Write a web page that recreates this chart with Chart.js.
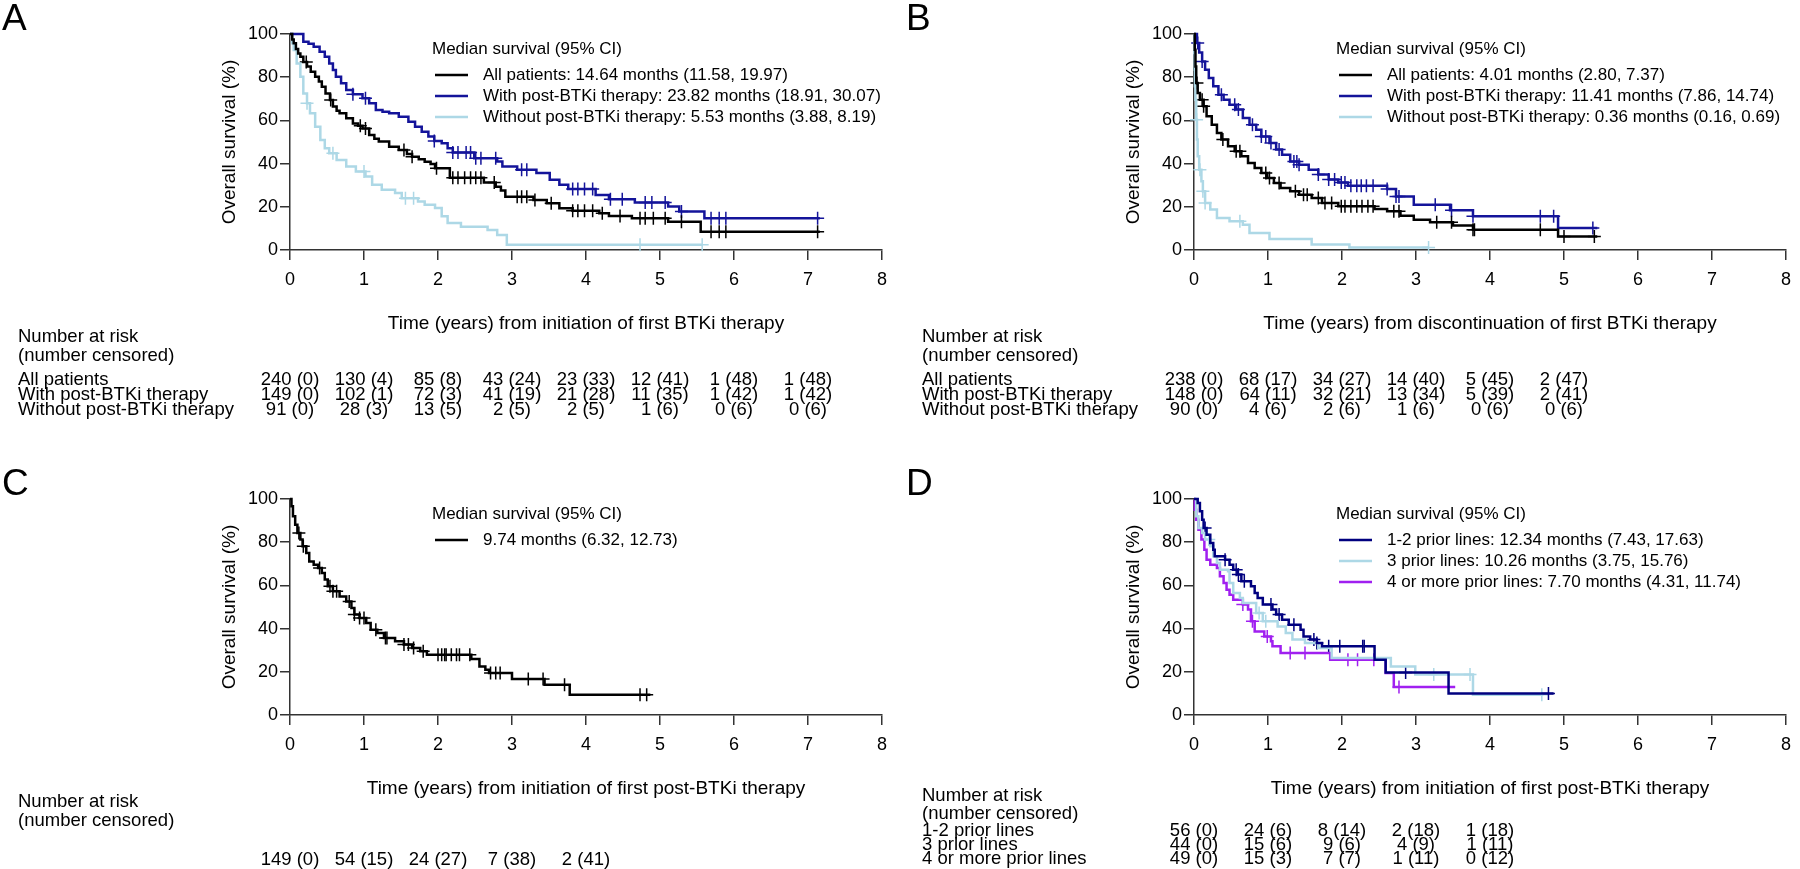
<!DOCTYPE html>
<html>
<head>
<meta charset="utf-8">
<script src="https://cdn.jsdelivr.net/npm/chart.js@4.4.1/dist/chart.umd.min.js"></script>
<style>
  body { margin: 0; width: 1800px; height: 869px; overflow: hidden; background: #fff; position: relative; }
  .panel { position: absolute; }
</style>
</head>
<body>
<div class="panel" style="left:0;top:0"><canvas id="chartA" width="896" height="465"></canvas></div>
<div class="panel" style="left:904px;top:0"><canvas id="chartB" width="896" height="465"></canvas></div>
<div class="panel" style="left:0;top:465px"><canvas id="chartC" width="896" height="404"></canvas></div>
<div class="panel" style="left:904px;top:465px"><canvas id="chartD" width="896" height="404"></canvas></div>
<script>
// ---- panel A : from initiation of first BTKi ----
var aAllT = [0, 0.03, 0.05, 0.08, 0.11, 0.14, 0.18, 0.23, 0.28, 0.34, 0.39, 0.43, 0.48, 0.54, 0.58, 0.63, 0.67, 0.76, 0.85, 0.92, 0.98, 1.07, 1.14, 1.2, 1.34, 1.47, 1.58, 1.65, 1.74, 1.82, 1.9, 1.96, 2.16, 2.62, 2.78, 2.85, 2.91, 3.29, 3.47, 3.64, 3.82, 4.18, 4.31, 4.62, 5.11, 5.55, 7.16];
var aAllS = [100, 97.5, 95.7, 93, 91, 89.5, 87, 84.9, 82.5, 80.2, 78, 75.6, 72.5, 69.4, 66.4, 64.5, 63.3, 61, 58.6, 57.5, 56.3, 53.2, 51.5, 50.2, 47.8, 46.3, 44.5, 43.2, 42, 40.9, 39.8, 37.8, 33.4, 31.2, 29.3, 27.5, 24.7, 23.1, 21.6, 19.3, 18.2, 17, 15.7, 14.7, 13.1, 8.5, 8.5];
var aAllCens = [0.22, 0.55, 0.95, 1.02, 1.54, 1.65, 1.98, 2.2, 2.27, 2.36, 2.44, 2.51, 2.58, 2.76, 3.07, 3.13, 3.2, 3.31, 3.53, 3.82, 3.89, 3.98, 4.09, 4.22, 4.46, 4.73, 4.8, 4.91, 5.07, 5.29, 5.69, 5.8, 5.89, 7.13];

var aWithT = [0, 0.16, 0.18, 0.25, 0.32, 0.4, 0.47, 0.53, 0.58, 0.62, 0.69, 0.76, 0.85, 0.98, 1.07, 1.16, 1.25, 1.34, 1.47, 1.6, 1.69, 1.78, 1.87, 1.95, 2.05, 2.13, 2.2, 2.49, 2.8, 2.87, 3.07, 3.33, 3.51, 3.64, 3.76, 4.13, 4.31, 4.66, 5.11, 5.26, 5.6, 7.16];
var aWithS = [100, 100, 96.4, 95.5, 94.1, 91.8, 89.5, 86.4, 83.3, 80.2, 77.2, 74.1, 72.1, 70.2, 67.9, 64.8, 64, 63.3, 61.7, 59.4, 57.1, 54.8, 52.5, 50.5, 49.4, 47.1, 45.1, 42.5, 41, 38.6, 37.1, 35.6, 32.5, 30.2, 28.2, 25.5, 23.5, 22, 20.1, 17.8, 14.7, 14.7];
var aWithCens = [0.85, 1.02, 1.95, 2.2, 2.27, 2.38, 2.44, 2.51, 2.58, 2.78, 3.13, 3.2, 3.82, 3.89, 3.98, 4.09, 4.33, 4.49, 4.8, 4.89, 5.07, 5.29, 5.69, 5.8, 5.89, 7.13];

var aWoT = [0, 0.03, 0.05, 0.09, 0.14, 0.18, 0.23, 0.27, 0.34, 0.41, 0.47, 0.53, 0.63, 0.76, 0.89, 1.02, 1.11, 1.24, 1.42, 1.51, 1.73, 1.82, 1.96, 2.05, 2.13, 2.31, 2.67, 2.8, 2.93, 5.57];
var aWoS = [100, 95.7, 92.6, 86.4, 80.2, 72.5, 67.9, 63.3, 57.1, 50.9, 47.1, 44.8, 41.7, 38.6, 36.3, 34, 30.2, 27.9, 26.4, 24, 22.5, 20.9, 19.4, 15.6, 12.5, 10.8, 9.3, 7, 2.4, 2.4];
var aWoCens = [0.23, 0.58, 1.0, 1.56, 1.67, 4.73, 5.57];

var aRiskAll = [240, 130, 85, 43, 23, 12, 1, 1], aCensAll = [0, 4, 8, 24, 33, 41, 48, 48];
var aRiskWith = [149, 102, 72, 41, 21, 11, 1, 1], aCensWith = [0, 1, 3, 19, 28, 35, 42, 42];
var aRiskWo = [91, 28, 13, 2, 2, 1, 0, 0], aCensWo = [0, 3, 5, 5, 5, 6, 6, 6];

// ---- panel B : from discontinuation of first BTKi ----
var bAllT = [0, 0.01, 0.02, 0.03, 0.05, 0.08, 0.13, 0.17, 0.24, 0.31, 0.37, 0.46, 0.55, 0.64, 0.73, 0.82, 0.91, 0.99, 1.08, 1.17, 1.3, 1.42, 1.59, 1.73, 1.95, 2.44, 2.61, 2.79, 2.97, 3.19, 3.5, 3.77, 4.92, 5.45];
var bAllS = [100, 92.7, 85, 77.3, 72.7, 69.6, 66.5, 61.9, 58, 54.2, 51.1, 48, 45.7, 43.4, 40.3, 38, 35.6, 33.3, 31, 28.7, 27.2, 25.6, 24.1, 21.8, 20.3, 19, 17.9, 15.9, 14, 12.8, 11.3, 9.4, 6.3, 6.3];
var bAllCens = [0.04, 0.11, 0.13, 0.39, 0.57, 0.62, 0.97, 1.02, 1.15, 1.37, 1.48, 1.53, 1.68, 1.77, 1.86, 1.99, 2.04, 2.12, 2.2, 2.27, 2.35, 2.42, 2.7, 2.77, 3.28, 3.48, 3.77, 3.79, 4.68, 5.0, 5.41];

var bWithT = [0, 0.04, 0.07, 0.11, 0.15, 0.2, 0.26, 0.33, 0.4, 0.48, 0.57, 0.66, 0.75, 0.84, 0.91, 1.02, 1.11, 1.19, 1.3, 1.42, 1.55, 1.68, 1.82, 1.95, 2.08, 2.61, 2.73, 2.97, 3.46, 3.77, 4.92, 5.45];
var bWithS = [100, 95.8, 91.4, 87.3, 83.5, 79.6, 75.8, 71.9, 69.6, 67.3, 65, 61.1, 58, 55.7, 52.6, 49.5, 46.5, 44.1, 41, 39.5, 37.2, 34.9, 32.6, 31.2, 29.8, 28.2, 24.8, 21, 18.4, 15.6, 10.2, 10.2];
var bWithCens = [0.05, 0.11, 0.37, 0.55, 0.6, 0.79, 0.91, 0.97, 1.04, 1.15, 1.35, 1.39, 1.42, 1.68, 1.82, 1.9, 1.99, 2.04, 2.12, 2.2, 2.26, 2.33, 2.42, 2.61, 2.73, 2.77, 3.26, 3.48, 3.77, 4.68, 4.86, 5.39];

var bWoT = [0, 0.005, 0.01, 0.013, 0.02, 0.03, 0.04, 0.05, 0.07, 0.1, 0.12, 0.15, 0.22, 0.31, 0.48, 0.66, 0.75, 1.02, 1.59, 2.1, 3.17];
var bWoS = [100, 91.2, 83.5, 75.8, 69.6, 60.3, 51.1, 43.4, 37.2, 31.8, 27.2, 21.8, 18.7, 14.8, 13.3, 11.7, 7.9, 5.1, 2.5, 1.1, 1.1];
var bWoCens = [0.035, 0.08, 0.12, 0.15, 0.62, 3.17];

var bRiskAll = [238, 68, 34, 14, 5, 2], bCensAll = [0, 17, 27, 40, 45, 47];
var bRiskWith = [148, 64, 32, 13, 5, 2], bCensWith = [0, 11, 21, 34, 39, 41];
var bRiskWo = [90, 4, 2, 1, 0, 0], bCensWo = [0, 6, 6, 6, 6, 6];

// ---- panel C : from initiation of first post-BTKi ----
var cT = [0, 0.02, 0.04, 0.07, 0.1, 0.14, 0.17, 0.22, 0.26, 0.32, 0.38, 0.43, 0.47, 0.51, 0.58, 0.67, 0.76, 0.83, 0.87, 0.94, 1.03, 1.09, 1.18, 1.27, 1.42, 1.54, 1.65, 1.76, 1.85, 2.45, 2.56, 2.64, 2.69, 3.0, 3.44, 3.78, 4.87];
var cS = [100, 96.6, 92, 88.1, 84.3, 81.2, 78.1, 75, 71.1, 69.6, 68.1, 65.7, 62.7, 59.6, 57.3, 54.9, 52.6, 49.5, 46.5, 44.9, 42.6, 39.5, 38, 35.6, 34.1, 32.6, 31, 29.5, 27.9, 25.9, 22.5, 21, 19.4, 16.7, 14, 9.4, 9.4];
var cCens = [0.12, 0.18, 0.4, 0.54, 0.58, 0.63, 0.8, 0.87, 0.94, 1.0, 1.16, 1.29, 1.31, 1.54, 1.6, 1.67, 1.8, 2.0, 2.05, 2.09, 2.11, 2.18, 2.25, 2.29, 2.43, 2.71, 2.78, 2.84, 3.22, 3.42, 3.71, 4.73, 4.82];
var cRisk = [149, 54, 24, 7, 2], cCensN = [0, 15, 27, 38, 41];

// ---- panel D : by number of prior lines ----
var dL12T = [0, 0.05, 0.08, 0.11, 0.13, 0.17, 0.22, 0.26, 0.28, 0.42, 0.48, 0.53, 0.59, 0.64, 0.77, 0.82, 0.86, 0.93, 1.06, 1.11, 1.19, 1.28, 1.44, 1.48, 1.57, 1.66, 1.73, 2.44, 2.59, 3.44, 4.86];
var dL12S = [100, 98.1, 94.3, 90.4, 86.6, 83.5, 79.6, 76.5, 73.5, 71.9, 69.6, 67.3, 65, 61.9, 59.6, 56.5, 54.2, 51.1, 48.8, 46.5, 44.1, 41.8, 39.5, 36.4, 34.9, 33.3, 31.8, 25.6, 19.7, 9.9, 9.9];
var dL12Cens = [0.15, 0.42, 0.57, 0.6, 0.68, 1.04, 1.15, 1.35, 1.62, 1.66, 1.82, 1.97, 2.28, 2.3, 2.86, 4.79];

var dL3T = [0, 0.03, 0.06, 0.11, 0.15, 0.22, 0.26, 0.31, 0.35, 0.46, 0.48, 0.53, 0.62, 0.66, 0.84, 0.93, 1.13, 1.24, 1.33, 1.5, 1.68, 1.86, 2.66, 2.99, 3.77, 4.72];
var dL3S = [100, 92, 86.6, 84.3, 81.2, 78.1, 73.5, 70.4, 67.3, 66.5, 61.1, 56.5, 54.2, 51.9, 47.2, 43.4, 41, 38, 34.9, 33.3, 31, 26.4, 22.5, 18.7, 9.4, 9.4];
var dL3Cens = [0.2, 0.88, 0.97, 3.24, 3.73, 4.7];

var dL4T = [0, 0.01, 0.03, 0.06, 0.1, 0.14, 0.17, 0.22, 0.31, 0.35, 0.4, 0.44, 0.48, 0.53, 0.66, 0.73, 0.77, 0.82, 0.95, 1.04, 1.06, 1.17, 1.84, 2.59, 2.7, 3.53];
var dL4S = [100, 95, 90.4, 85.8, 81.2, 76.5, 71.9, 69.6, 68.1, 64.2, 61.1, 58, 55.7, 53.4, 51.1, 48.8, 43.4, 38.7, 36.4, 34.1, 31.8, 28.7, 25.6, 19.4, 13, 13];
var dL4Cens = [0.66, 0.79, 0.99, 1.3, 1.5, 2.08, 2.21, 2.43, 2.77];

var dRisk12 = [56, 24, 8, 2, 1], dCens12 = [0, 6, 14, 18, 18];
var dRisk3 = [44, 15, 9, 4, 1], dCens3 = [0, 6, 6, 9, 11];
var dRisk4 = [49, 15, 7, 1, 0], dCens4 = [0, 3, 7, 11, 12];

var FONT = '"Liberation Sans", Arial, Helvetica, sans-serif';
Chart.defaults.font.family = FONT;
Chart.defaults.color = '#000';

// survival level at time t (censor marks sit on the curve)
var stepAt = function (T, S, t) {
  var v = S[0];
  for (var i = 0; i < T.length; i++) {
    if (T[i] <= t) v = S[i];
  }
  return v;
};

var kmDecor = {
  id: 'kmDecor',
  afterDraw: function (chart, args, o) {
    var ctx = chart.ctx, xs = chart.scales.x;
    ctx.save();
    ctx.fillStyle = '#000';

    ctx.font = '37px ' + FONT;
    ctx.textBaseline = 'alphabetic';
    ctx.textAlign = 'left';
    ctx.fillText(o.letter, 2, 30);

    // legend
    ctx.font = '17px ' + FONT;
    ctx.textBaseline = 'middle';
    ctx.fillText('Median survival (95% CI)', 432, 49);
    var row = 0;
    chart.data.datasets.forEach(function (ds) {
      if (!ds.showLine) return;
      var y = 75 + row * 21;
      ctx.strokeStyle = ds.borderColor;
      ctx.lineWidth = 2.5;
      ctx.beginPath();
      ctx.moveTo(435, y);
      ctx.lineTo(468, y);
      ctx.stroke();
      ctx.fillText(ds.label, 483, y);
      row++;
    });

    // number at risk table
    ctx.font = '18.5px ' + FONT;
    ctx.fillText('Number at risk', 18, o.headY);
    ctx.fillText('(number censored)', 18, o.censY);
    o.rows.forEach(function (r, i) {
      var y = o.rowY[i];
      ctx.textAlign = 'left';
      if (r.name) ctx.fillText(r.name, 18, y);
      ctx.textAlign = 'center';
      r.n.forEach(function (n, j) {
        ctx.fillText(n + ' (' + r.c[j] + ')', xs.getPixelForValue(j), y);
      });
    });
    ctx.restore();
  }
};

var axisGrid = { drawOnChartArea: false, drawTicks: true, tickLength: 10, color: '#333', lineWidth: 1.5 };
var axisBorder = { display: true, color: '#333', width: 1.5 };

var makePanel = function (id, p) {
  var datasets = [];
  p.curves.forEach(function (c) {
    datasets.push({
      label: c.label,
      data: c.T.map(function (t, i) { return { x: t, y: c.S[i] }; }),
      borderColor: c.color, backgroundColor: c.color, borderWidth: 2.5,
      stepped: 'before', pointRadius: 0, clip: false, showLine: true
    });
  });
  p.curves.forEach(function (c) {
    datasets.push({
      label: c.label + ' censored',
      data: c.cens.map(function (t) { return { x: t, y: stepAt(c.T, c.S, t) }; }),
      showLine: false, pointStyle: 'cross', pointRadius: 6.5,
      borderColor: c.color, backgroundColor: c.color, borderWidth: 1.5, clip: false
    });
  });

  var h = document.getElementById(id).height;
  new Chart(document.getElementById(id), {
    type: 'line',
    data: { datasets: datasets },
    options: {
      responsive: false,
      animation: false,
      events: [],
      layout: { padding: { left: 200, right: 6, top: 34, bottom: h - 250 - 85 } },
      plugins: {
        legend: { display: false },
        tooltip: { enabled: false },
        kmDecor: { letter: p.letter, headY: p.headY, censY: p.censY, rows: p.rows, rowY: p.rowY }
      },
      scales: {
        x: {
          type: 'linear', min: 0, max: 8,
          afterFit: function (s) { s.height = 85; },
          ticks: { stepSize: 1, padding: 9, font: { size: 18 }, color: '#000', maxRotation: 0 },
          grid: axisGrid, border: axisBorder,
          title: { display: true, text: p.xTitle, font: { size: 19 }, color: '#000', padding: { top: 0, bottom: 0 } }
        },
        y: {
          min: 0, max: 100,
          afterFit: function (s) { s.width = 90; },
          ticks: { stepSize: 20, padding: 2, font: { size: 18 }, color: '#000' },
          grid: axisGrid, border: axisBorder,
          title: { display: true, text: 'Overall survival (%)', font: { size: 19 }, color: '#000', padding: { top: 18, bottom: 0 } }
        }
      }
    },
    plugins: [kmDecor]
  });
};

var BLACK = '#000000', BLUE = '#14149a', NAVY = '#00007f', LIGHT = '#add8e6', PURPLE = '#a020f0';

makePanel('chartA', {
  letter: 'A',
  xTitle: 'Time (years) from initiation of first BTKi therapy',
  curves: [
    { label: 'All patients: 14.64 months (11.58, 19.97)', color: BLACK, T: aAllT, S: aAllS, cens: aAllCens },
    { label: 'With post-BTKi therapy: 23.82 months (18.91, 30.07)', color: BLUE, T: aWithT, S: aWithS, cens: aWithCens },
    { label: 'Without post-BTKi therapy: 5.53 months (3.88, 8.19)', color: LIGHT, T: aWoT, S: aWoS, cens: aWoCens }
  ],
  headY: 337, censY: 356,
  rowY: [380, 395, 410],
  rows: [
    { name: 'All patients', n: aRiskAll, c: aCensAll },
    { name: 'With post-BTKi therapy', n: aRiskWith, c: aCensWith },
    { name: 'Without post-BTKi therapy', n: aRiskWo, c: aCensWo }
  ]
});

makePanel('chartB', {
  letter: 'B',
  xTitle: 'Time (years) from discontinuation of first BTKi therapy',
  curves: [
    { label: 'All patients: 4.01 months (2.80, 7.37)', color: BLACK, T: bAllT, S: bAllS, cens: bAllCens },
    { label: 'With post-BTKi therapy: 11.41 months (7.86, 14.74)', color: BLUE, T: bWithT, S: bWithS, cens: bWithCens },
    { label: 'Without post-BTKi therapy: 0.36 months (0.16, 0.69)', color: LIGHT, T: bWoT, S: bWoS, cens: bWoCens }
  ],
  headY: 337, censY: 356,
  rowY: [380, 395, 410],
  rows: [
    { name: 'All patients', n: bRiskAll, c: bCensAll },
    { name: 'With post-BTKi therapy', n: bRiskWith, c: bCensWith },
    { name: 'Without post-BTKi therapy', n: bRiskWo, c: bCensWo }
  ]
});

makePanel('chartC', {
  letter: 'C',
  xTitle: 'Time (years) from initiation of first post-BTKi therapy',
  curves: [
    { label: '9.74 months (6.32, 12.73)', color: BLACK, T: cT, S: cS, cens: cCens }
  ],
  headY: 337, censY: 356,
  rowY: [395],
  rows: [
    { name: '', n: cRisk, c: cCensN }
  ]
});

makePanel('chartD', {
  letter: 'D',
  xTitle: 'Time (years) from initiation of first post-BTKi therapy',
  curves: [
    { label: '1-2 prior lines: 12.34 months (7.43, 17.63)', color: NAVY, T: dL12T, S: dL12S, cens: dL12Cens },
    { label: '3 prior lines: 10.26 months (3.75, 15.76)', color: LIGHT, T: dL3T, S: dL3S, cens: dL3Cens },
    { label: '4 or more prior lines: 7.70 months (4.31, 11.74)', color: PURPLE, T: dL4T, S: dL4S, cens: dL4Cens }
  ],
  headY: 331, censY: 349,
  rowY: [366, 380, 394],
  rows: [
    { name: '1-2 prior lines', n: dRisk12, c: dCens12 },
    { name: '3 prior lines', n: dRisk3, c: dCens3 },
    { name: '4 or more prior lines', n: dRisk4, c: dCens4 }
  ]
});
</script>
</body>
</html>
